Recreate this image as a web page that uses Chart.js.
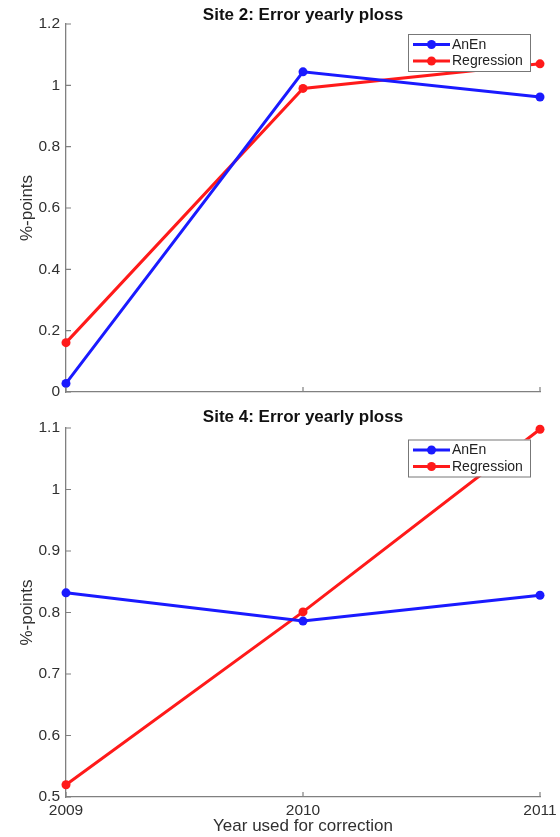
<!DOCTYPE html>
<html>
<head>
<meta charset="utf-8">
<script src="https://cdn.jsdelivr.net/npm/chart.js@4"></script>
<style>
html,body{margin:0;padding:0;background:#fff;}
#w1{position:absolute;left:0;top:0;width:560px;height:400px;}
#w2{position:absolute;left:0;top:400px;width:560px;height:437px;}
</style>
</head>
<body>
<div id="w1"><canvas id="c1"></canvas></div>
<div id="w2"><canvas id="c2"></canvas></div>
<script>
// ---- data ----
const years = [2009, 2010, 2011];
const site2AnEn = [0.028, 1.044, 0.962];
const site2Regression = [0.161, 0.990, 1.070];
const site4AnEn = [0.832, 0.786, 0.828];
const site4Regression = [0.520, 0.801, 1.098];
const yTicksTop = [0, 0.2, 0.4, 0.6, 0.8, 1, 1.2];
const yTickLabelsTop = ['0', '0.2', '0.4', '0.6', '0.8', '1', '1.2'];
const yTicksBottom = [0.5, 0.6, 0.7, 0.8, 0.9, 1, 1.1];
const yTickLabelsBottom = ['0.5', '0.6', '0.7', '0.8', '0.9', '1', '1.1'];
const xTickLabels = ['2009', '2010', '2011'];
const seriesNames = ['AnEn', 'Regression'];
const titles = ['Site 2: Error yearly ploss', 'Site 4: Error yearly ploss'];

const FONT = "'Liberation Sans', Arial, Helvetica, sans-serif";
const AXIS = '#808080';
const TXT = '#303030';
const BLUE = '#1a1aff';
const RED = '#ff1a1a';

function ds(label, ys, color) {
  return {
    label: label,
    data: years.map((x, i) => ({x: x, y: ys[i]})),
    borderColor: color,
    backgroundColor: color,
    borderWidth: 3,
    pointRadius: 4.5,
    pointHoverRadius: 4.5,
    pointBorderWidth: 0,
    tension: 0,
    clip: false
  };
}

const inwardTicks = {
  id: 'inwardTicks',
  afterDraw(chart) {
    const ctx = chart.ctx, a = chart.chartArea;
    const xs = chart.scales.x, ys = chart.scales.y;
    ctx.save();
    ctx.strokeStyle = AXIS;
    ctx.lineWidth = 1.2;
    ctx.beginPath();
    xs.ticks.forEach(t => {
      const px = xs.getPixelForValue(t.value);
      ctx.moveTo(px, a.bottom); ctx.lineTo(px, a.bottom - 5);
    });
    ys.ticks.forEach(t => {
      const py = ys.getPixelForValue(t.value);
      ctx.moveTo(a.left, py); ctx.lineTo(a.left + 5, py);
    });
    ctx.stroke();
    ctx.restore();
  }
};

const plotTitle = {
  id: 'plotTitle',
  afterDraw(chart, args, opts) {
    const ctx = chart.ctx, a = chart.chartArea;
    ctx.save();
    ctx.fillStyle = '#111';
    ctx.font = 'bold 17px ' + FONT;
    ctx.textAlign = 'center';
    ctx.textBaseline = 'alphabetic';
    ctx.fillText(opts.text, (a.left + a.right) / 2, a.top - opts.gap);
    ctx.restore();
  }
};

const boxLegend = {
  id: 'boxLegend',
  afterDraw(chart, args, opts) {
    const ctx = chart.ctx, a = chart.chartArea;
    const w = 122, h = 37;
    const left = a.right - 132, top = a.top + opts.dy;
    ctx.save();
    ctx.fillStyle = '#fff';
    ctx.fillRect(left, top, w, h);
    ctx.strokeStyle = '#777';
    ctx.lineWidth = 1;
    ctx.strokeRect(left + 0.5, top + 0.5, w, h);
    chart.data.datasets.forEach((d, i) => {
      const cy = top + 10.5 + i * 16.5;
      ctx.strokeStyle = d.borderColor;
      ctx.lineWidth = 3;
      ctx.beginPath();
      ctx.moveTo(left + 5, cy); ctx.lineTo(left + 42, cy);
      ctx.stroke();
      ctx.fillStyle = d.borderColor;
      ctx.beginPath();
      ctx.arc(left + 23.5, cy, 4.5, 0, Math.PI * 2);
      ctx.fill();
      ctx.fillStyle = '#222';
      ctx.font = '14px ' + FONT;
      ctx.textBaseline = 'middle';
      ctx.textAlign = 'left';
      ctx.fillText(d.label, left + 44, cy + 0.5);
    });
    ctx.restore();
  }
};

function makeChart(id, title, a, r, yt, ytl, showX, cfg) {
  return new Chart(document.getElementById(id), {
    type: 'line',
    data: { datasets: [ds(seriesNames[0], a, BLUE), ds(seriesNames[1], r, RED)] },
    plugins: [inwardTicks, boxLegend, plotTitle],
    options: {
      responsive: true,
      maintainAspectRatio: false,
      animation: false,
      events: [],
      layout: { padding: { left: 0, right: 20, top: cfg.topPad, bottom: 0 } },
      plugins: {
        legend: { display: false },
        tooltip: { enabled: false },
        title: { display: false },
        boxLegend: { dy: cfg.legendDy },
        plotTitle: { text: title, gap: cfg.titleGap }
      },
      scales: {
        x: {
          type: 'linear',
          min: 2009, max: 2011,
          afterBuildTicks: s => { s.ticks = years.map(v => ({ value: v })); },
          afterFit: s => { s.height = cfg.xHeight; s.paddingLeft = 0; s.paddingRight = 0; },
          grid: { display: false, drawTicks: false },
          border: { display: true, color: AXIS, width: 1.3 },
          ticks: {
            display: showX,
            padding: 4,
            color: TXT,
            font: { family: FONT, size: 15.5 },
            maxRotation: 0,
            callback: (v) => xTickLabels[years.indexOf(v)]
          },
          title: {
            display: showX,
            text: 'Year used for correction',
            color: TXT,
            font: { family: FONT, size: 17 },
            padding: { top: 0, bottom: 0 }
          }
        },
        y: {
          type: 'linear',
          min: yt[0], max: yt[yt.length - 1],
          afterBuildTicks: s => { s.ticks = yt.map(v => ({ value: v })); },
          afterFit: s => { s.width = 66; s.paddingTop = 0; s.paddingBottom = 0; },
          grid: { display: false, drawTicks: false },
          border: { display: true, color: AXIS, width: 1.3 },
          ticks: {
            padding: 6,
            color: TXT,
            font: { family: FONT, size: 15.5 },
            callback: (v) => { const i = yt.findIndex(t => Math.abs(t - v) < 1e-9); return ytl[i]; }
          },
          title: {
            display: true,
            text: '%-points',
            color: TXT,
            font: { family: FONT, size: 17 },
            padding: { top: 17, bottom: 0 }
          }
        }
      }
    }
  });
}

makeChart('c1', titles[0], site2AnEn, site2Regression, yTicksTop, yTickLabelsTop, false,
  { xHeight: 8, topPad: 24, titleGap: 4, legendDy: 10 });
makeChart('c2', titles[1], site4AnEn, site4Regression, yTicksBottom, yTickLabelsBottom, true,
  { xHeight: 40, topPad: 28, titleGap: 6, legendDy: 11.5 });
</script>
</body>
</html>
